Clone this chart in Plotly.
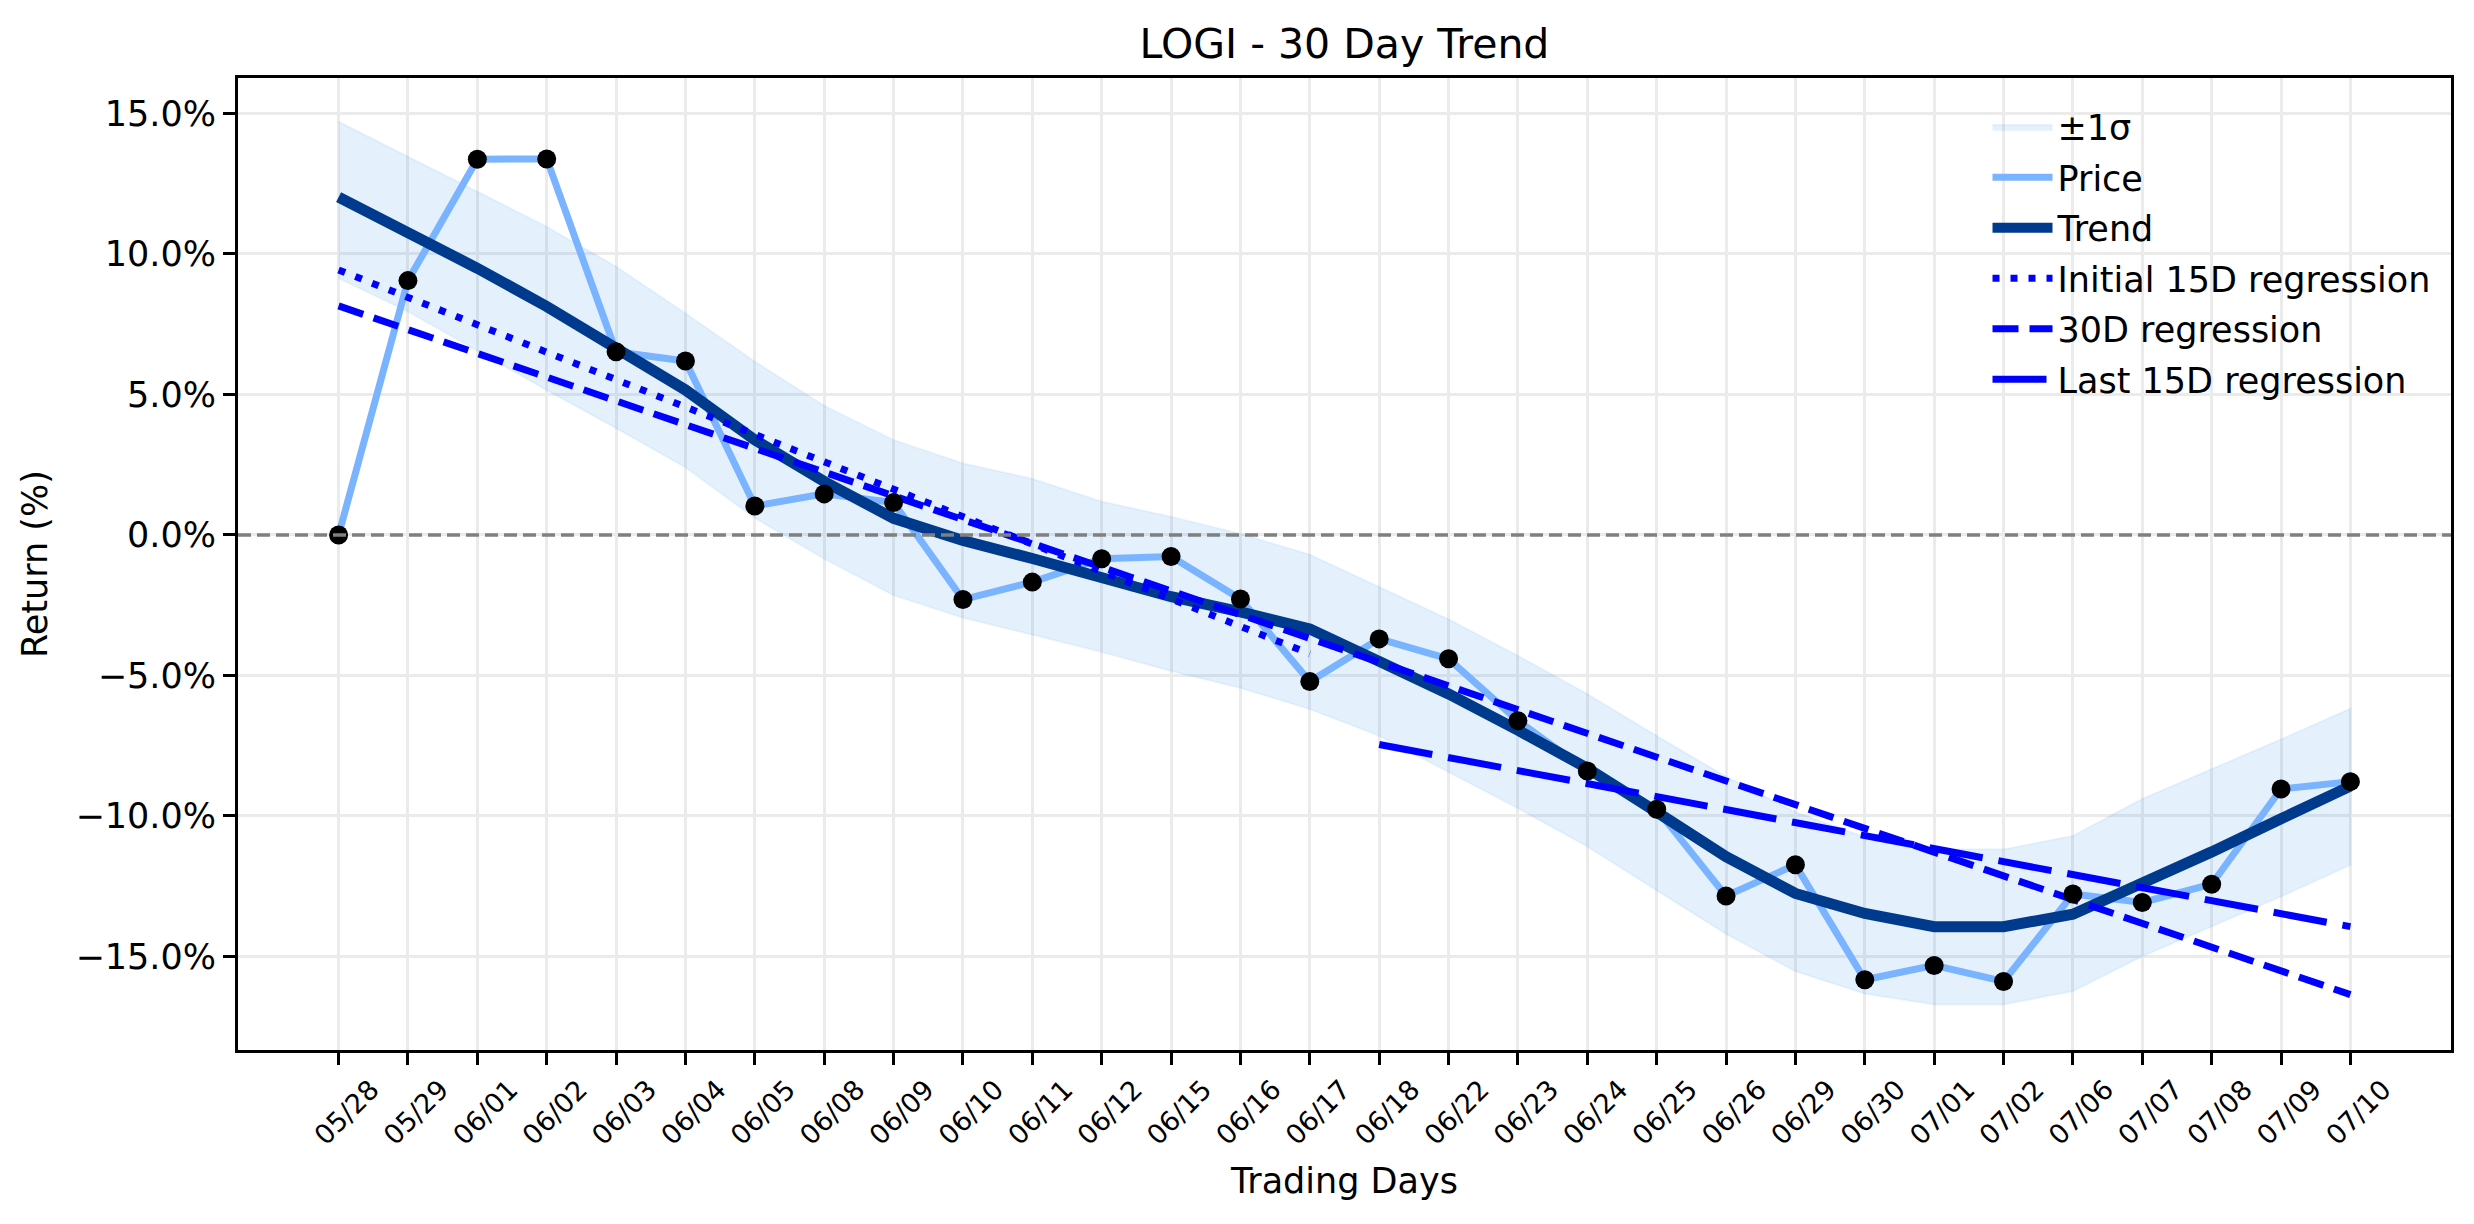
import plotly.graph_objects as go

days = ["05/28", "05/29", "06/01", "06/02", "06/03", "06/04", "06/05", "06/08", "06/09", "06/10",
        "06/11", "06/12", "06/15", "06/16", "06/17", "06/18", "06/22", "06/23", "06/24", "06/25",
        "06/26", "06/29", "06/30", "07/01", "07/02", "07/06", "07/07", "07/08", "07/09", "07/10"]

price = [0.0, 9.05, 13.37, 13.38, 6.52, 6.19, 1.03, 1.46, 1.15, -2.30,
         -1.68, -0.85, -0.77, -2.28, -5.22, -3.70, -4.41, -6.61, -8.40, -9.76,
         -12.85, -11.74, -15.83, -15.32, -15.89, -12.78, -13.08, -12.43, -9.04, -8.78]

trend = [12.02, 10.8, 9.49, 8.13, 6.70, 5.16, 3.38, 1.90, 0.59, -0.20,
         -0.84, -1.56, -2.20, -2.74, -3.35, -4.50, -5.66, -6.95, -8.30, -9.86,
         -11.45, -12.76, -13.47, -13.94, -13.94, -13.50, -12.44, -11.28, -10.10, -8.94]

band_upper = [14.71, 13.46, 12.22, 10.97, 9.55, 7.89, 6.17, 4.60, 3.38, 2.55,
              2.00, 1.19, 0.65, 0.04, -0.70, -1.86, -3.00, -4.30, -5.66, -7.15,
              -8.60, -9.86, -10.75, -11.19, -11.19, -10.71, -9.39, -8.33, -7.27, -6.18]

band_lower = [9.13, 7.95, 6.55, 5.15, 3.80, 2.40, 0.60, -0.85, -2.15, -2.95,
              -3.55, -4.17, -4.84, -5.45, -6.20, -7.15, -8.44, -9.73, -11.09, -12.65,
              -14.20, -15.53, -16.33, -16.71, -16.71, -16.24, -15.00, -13.94, -12.87, -11.75]

reg_initial_x = ["05/28", "06/17"]
reg_initial_y = [9.43, -4.23]
reg_30d_x = ["05/28", "07/10"]
reg_30d_y = [8.15, -16.36]
reg_last_x = ["06/18", "07/10"]
reg_last_y = [-7.46, -13.94]

y_ticks = [-15, -10, -5, 0, 5, 10, 15]
y_tick_text = [("\u2212" if v < 0 else "") + f"{abs(v):.1f}%" for v in y_ticks]

FONT = "DejaVu Sans"
X_RANGE = [-1.45, 30.45]
LABEL_SHIFT = 0.47  # centre rotated labels under their ticks (matplotlib ha='center')

fig = go.Figure()

fig.add_trace(go.Scatter(
    x=days + days[::-1], y=band_upper + band_lower[::-1],
    fill="toself", fillcolor="rgba(30,136,229,0.12)",
    line=dict(color="rgba(30,136,229,0.07)", width=2),
    mode="lines", name="\u00b11\u03c3", hoverinfo="skip", legendgroup="g1"))

fig.add_trace(go.Scatter(x=days, y=price, mode="lines", name="Price", legendgroup="g2",
                         line=dict(color="#7ab3ff", width=7)))
fig.add_trace(go.Scatter(x=days, y=trend, mode="lines", name="Trend", legendgroup="g3",
                         line=dict(color="#003a8c", width=11)))
fig.add_trace(go.Scatter(x=reg_initial_x, y=reg_initial_y, mode="lines",
                         name="Initial 15D regression", legendgroup="g4",
                         line=dict(color="#0000ff", width=7, dash="7px,11px")))
fig.add_trace(go.Scatter(x=reg_30d_x, y=reg_30d_y, mode="lines",
                         name="30D regression", legendgroup="g5",
                         line=dict(color="#0000ff", width=7, dash="26px,11px")))
fig.add_trace(go.Scatter(x=reg_last_x, y=reg_last_y, mode="lines",
                         name="Last 15D regression", legendgroup="g6",
                         line=dict(color="#0000ff", width=7, dash="54px,16px")))
fig.add_trace(go.Scatter(x=days, y=price, mode="markers", showlegend=False,
                         marker=dict(color="black", size=19)))

# carrier for the label axis
fig.add_trace(go.Scatter(x=[0], y=[0], xaxis="x2", mode="markers", showlegend=False,
                         marker=dict(opacity=0), hoverinfo="skip"))

fig.add_shape(type="line", xref="paper", yref="y", x0=0, x1=1, y0=0, y1=0,
              line=dict(color="#808080", width=3.5, dash="13px,6px"), layer="above")

fig.update_layout(
    width=2474, height=1224, autosize=False,
    margin=dict(l=238, r=23, t=78, b=174),
    paper_bgcolor="white", plot_bgcolor="white",
    font=dict(family=FONT, size=35, color="black"),
    title=dict(text="LOGI - 30 Day Trend", x=0.5, xref="paper", xanchor="center",
               y=1 - 44 / 1224, yanchor="middle", font=dict(size=41, family=FONT)),
    showlegend=True,
    legend=dict(x=0.993, xanchor="right", y=0.98, yanchor="top",
                bgcolor="rgba(0,0,0,0)", font=dict(size=35, family=FONT),
                traceorder="grouped", itemwidth=60, tracegroupgap=2),
    xaxis=dict(
        type="category", categoryorder="array", categoryarray=days,
        range=X_RANGE, tickmode="array", tickvals=days, showticklabels=False,
        showgrid=True, gridcolor="#ebebeb", gridwidth=2.5,
        showline=True, linecolor="black", linewidth=3, mirror=True,
        ticks="outside", ticklen=12, tickwidth=3, tickcolor="black",
        zeroline=False),
    xaxis2=dict(
        overlaying="x", anchor="y", side="bottom",
        range=[X_RANGE[0] - LABEL_SHIFT, X_RANGE[1] - LABEL_SHIFT],
        tickmode="array", tickvals=list(range(len(days))), ticktext=days,
        tickangle=-45, tickfont=dict(size=27, family=FONT),
        ticks="outside", ticklen=12, tickcolor="rgba(0,0,0,0)",
        showgrid=False, showline=False, zeroline=False,
        title=dict(text="Trading Days", font=dict(size=35, family=FONT), standoff=18)),
    yaxis=dict(
        range=[-18.33, 16.26], tickmode="array", tickvals=y_ticks, ticktext=y_tick_text,
        tickfont=dict(size=35, family=FONT),
        showgrid=True, gridcolor="#ebebeb", gridwidth=2.5,
        showline=True, linecolor="black", linewidth=3, mirror=True,
        ticks="outside", ticklen=12, tickwidth=3, tickcolor="black",
        zeroline=False,
        title=dict(text="Return (%)", font=dict(size=35, family=FONT), standoff=18)),
)

fig.write_html("out.html")
